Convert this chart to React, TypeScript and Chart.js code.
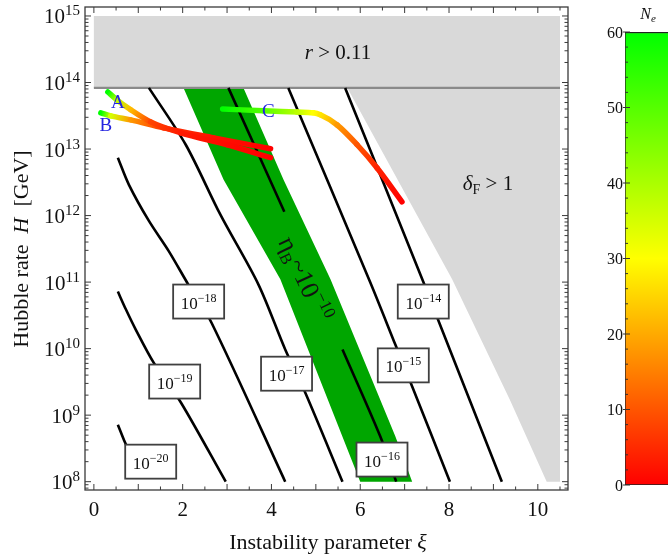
import React, { useEffect, useRef } from 'react';
import { Chart, registerables } from 'chart.js';
Chart.register(...registerables);

const SERIF = "'Liberation Serif', 'Times New Roman', 'DejaVu Serif', serif";

// ---- axes ----
const X_MIN = -0.2;
const X_MAX = 10.68;
const Y_MIN = Math.pow(10, 7.875);
const Y_MAX = Math.pow(10, 15.135);
const xTickLabels = [0, 2, 4, 6, 8, 10];
const xMinorTicks = [0, 0.5, 1, 1.5, 2, 2.5, 3, 3.5, 4, 4.5, 5, 5.5, 6, 6.5, 7, 7.5, 8, 8.5, 9, 9.5, 10, 10.5];
const yDecades = [8, 9, 10, 11, 12, 13, 14, 15];

// ---- excluded regions (r > 0.11 on top, deltaF > 1 on the right) ----
const grayXi = [0, 10.5, 10.5, 10.2, 9.37, 8.07, 5.71, 0];
const grayH = [1e15, 1e15, 1e8, 1e8, 1.71e9, 1.1e11, 8.3e13, 8.3e13];
const rBoundXi = [0, 10.5];
const rBoundH = [8.3e13, 8.3e13];

// ---- eta_B ~ 1e-10 band ----
const bandXi = [2.02, 2.92, 4.2, 6.0, 7.17, 6.79, 5.33, 4.27, 3.37];
const bandH = [8.3e13, 3.47e12, 1.1e11, 1e8, 1e8, 4.8e8, 1.1e11, 3.47e12, 8.3e13];

// ---- contours ----
const c14Xi = [5.66, 7.42, 7.78, 9.19];
const c14H = [8.3e13, 1.01e11, 2.45e10, 1e8];
const c15Xi = [4.38, 6.22, 6.79, 7.17, 8.02];
const c15H = [8.3e13, 1.01e11, 1.15e10, 2.7e9, 1e8];
const c16Xi = [3.03, 4.29, 4.29, 5.6, 6.45, 6.81];
const c16H = [8.3e13, 1.14e12, null, 9.7e9, 4.8e8, 1e8];
const c17Xi = [1.24, 2.07, 2.85, 3.71, 4.31, 4.76, 5.6];
const c17H = [8.3e13, 1.16e13, 1.03e12, 9.1e10, 9.7e9, 2.19e9, 1e8];
const c18Xi = [0.54, 0.79, 1.24, 1.69, 2.13, 2.65, 4.31];
const c18H = [7.4e12, 2.9e12, 8.3e11, 2.9e11, 9.1e10, 2.45e10, 1e8];
const c19Xi = [0.54, 0.72, 0.94, 1.35, 1.96, 2.97];
const c19H = [7.2e10, 3.9e10, 1.95e10, 6.1e9, 1.55e9, 1e8];
const c20Xi = [0.54, 0.7, 0.85];
const c20H = [7.2e8, 3.9e8, 2.3e8];

// contour labels
const labelExp = ['−14', '−15', '−16', '−17', '−18', '−19', '−20'];
const labelXi = [7.42, 6.97, 6.49, 4.34, 2.36, 1.82, 1.28];
const labelH = [5.1e10, 5.6e9, 2.15e8, 4.2e9, 5.1e10, 3.2e9, 2.0e8];

// ---- trajectories A, B, C coloured by N_e ----
const aXi = [0.315, 0.517, 0.83, 1.28, 1.955, 3.01, 3.98];
const aH = [7.2e13, 5.5e13, 3.9e13, 2.56e13, 1.75e13, 1.16e13, 7.4e12];
const aNe = [60, 38, 22, 8, 3, 1, 0];
const bXi = [0.157, 0.382, 0.83, 1.57, 2.7, 3.98];
const bH = [3.5e13, 3.15e13, 2.74e13, 2.08e13, 1.47e13, 1.01e13];
const bNe = [60, 35, 18, 6, 2, 0];
const cXi = [2.9, 3.82, 4.58, 4.94, 5.1, 5.48, 5.93, 6.38, 6.94];
const cH = [4.0e13, 3.75e13, 3.6e13, 3.5e13, 3.27e13, 2.3e13, 1.16e13, 5.2e12, 1.61e12];
const cNe = [60, 50, 38, 30, 27, 18, 10, 4, 0];
const trajNames = ['A', 'B', 'C'];
const trajNameXi = [0.54, 0.27, 3.93];
const trajNameH = [5.1e13, 2.3e13, 3.75e13];

// ---- region texts ----
const rTextXi = 5.5;
const rTextH = 2.9e14;
const dTextXi = 8.31;
const dTextH = 3.1e12;
const etaXi = 4.74;
const etaH = 1.1e11;

// ---- colour bar ----
const NE_MAX = 60;
const neTicks = [0, 10, 20, 30, 40, 50, 60];
const neMinor = [2, 4, 6, 8, 12, 14, 16, 18, 22, 24, 26, 28, 32, 34, 36, 38, 42, 44, 46, 48, 52, 54, 56, 58];

function neColor(ne: number) {
  let r: number, g: number;
  if (ne <= 30) { r = 255; g = Math.round(255 * ne / 30); }
  else { r = Math.round(255 * (60 - ne) / 30); g = 255; }
  return `rgb(${r},${g},0)`;
}

function pts(xs: number[], hs: (number | null)[]) {
  return xs.map((x, i) => ({ x, y: hs[i] }));
}

function contourDs(xs: number[], hs: (number | null)[]) {
  return {
    data: pts(xs, hs), showLine: true, borderColor: '#000', borderWidth: 2.6,
    pointRadius: 0, tension: 0.3, spanGaps: false, order: 5,
  };
}

function trajDs(xs: number[], hs: number[], nes: number[]) {
  return {
    data: pts(xs, hs), showLine: true, borderWidth: 5.5, pointRadius: 0,
    borderCapStyle: 'round', borderJoinStyle: 'round', cubicInterpolationMode: 'monotone',
    borderColor: neColor(nes[0]), order: 1,
    segment: {
      borderColor: (c: any) => {
        const g = c.chart.ctx.createLinearGradient(c.p0.x, c.p0.y, c.p1.x, c.p1.y);
        g.addColorStop(0, neColor(nes[c.p0DataIndex]));
        g.addColorStop(1, neColor(nes[c.p1DataIndex]));
        return g;
      },
      borderDashOffset: (c: any) => c.p0DataIndex,
    },
  };
}

type Part = { t: string; font: string; dy: number };
function measureParts(ctx: CanvasRenderingContext2D, parts: Part[]) {
  let w = 0;
  for (const p of parts) { ctx.font = p.font; w += ctx.measureText(p.t).width; }
  return w;
}
function drawParts(ctx: CanvasRenderingContext2D, parts: Part[], x: number, y: number, align: 'left' | 'center' | 'right') {
  const w = measureParts(ctx, parts);
  let cx = align === 'left' ? x : align === 'center' ? x - w / 2 : x - w;
  ctx.textAlign = 'left';
  ctx.textBaseline = 'alphabetic';
  for (const p of parts) {
    ctx.font = p.font;
    ctx.fillText(p.t, cx, y + p.dy);
    cx += ctx.measureText(p.t).width;
  }
}

const polyFillPlugin = {
  id: 'polyFill',
  beforeDatasetsDraw(chart: any) {
    const { ctx, chartArea: a } = chart;
    ctx.save();
    ctx.beginPath();
    ctx.rect(a.left, a.top, a.right - a.left, a.bottom - a.top);
    ctx.clip();
    chart.data.datasets.forEach((ds: any, i: number) => {
      if (!ds.polyFill) return;
      const meta = chart.getDatasetMeta(i);
      ctx.beginPath();
      meta.data.forEach((p: any, j: number) => (j ? ctx.lineTo(p.x, p.y) : ctx.moveTo(p.x, p.y)));
      ctx.closePath();
      ctx.fillStyle = ds.polyFill;
      ctx.fill();
    });
    ctx.restore();
  },
};

const decorPlugin = {
  id: 'decor',
  afterDraw(chart: any) {
    const { ctx, chartArea: a, scales } = chart;
    const xs = scales.x, ys = scales.y;
    ctx.save();

    // eta_B text (rotated)
    ctx.save();
    ctx.translate(xs.getPixelForValue(etaXi), ys.getPixelForValue(etaH));
    ctx.rotate((65 * Math.PI) / 180);
    ctx.fillStyle = '#111';
    drawParts(ctx, [
      { t: 'η', font: `26px ${SERIF}`, dy: 0 },
      { t: 'B', font: `16px ${SERIF}`, dy: 5 },
      { t: '~', font: `26px ${SERIF}`, dy: 0 },
      { t: '10', font: `26px ${SERIF}`, dy: 0 },
      { t: '−10', font: `17px ${SERIF}`, dy: -11 },
    ], 0, 8, 'center');
    ctx.restore();

    // contour labels
    labelExp.forEach((e, i) => {
      const cx = xs.getPixelForValue(labelXi[i]);
      const cy = ys.getPixelForValue(labelH[i]);
      const w = 51, h = 34;
      ctx.fillStyle = '#fff';
      ctx.fillRect(cx - w / 2, cy - h / 2, w, h);
      ctx.strokeStyle = '#404040';
      ctx.lineWidth = 1.8;
      ctx.strokeRect(cx - w / 2, cy - h / 2, w, h);
      ctx.fillStyle = '#111';
      drawParts(ctx, [
        { t: '10', font: `17px ${SERIF}`, dy: 0 },
        { t: e, font: `12px ${SERIF}`, dy: -7 },
      ], cx, cy + 7, 'center');
    });

    // trajectory names
    ctx.fillStyle = '#2424e0';
    trajNames.forEach((n, i) => {
      ctx.font = `19px ${SERIF}`;
      ctx.textAlign = 'center';
      ctx.textBaseline = 'middle';
      ctx.fillText(n, xs.getPixelForValue(trajNameXi[i]), ys.getPixelForValue(trajNameH[i]) + 1);
    });

    // region texts
    ctx.fillStyle = '#111';
    drawParts(ctx, [
      { t: 'r', font: `italic 21px ${SERIF}`, dy: 0 },
      { t: ' > 0.11', font: `21px ${SERIF}`, dy: 0 },
    ], xs.getPixelForValue(rTextXi), ys.getPixelForValue(rTextH) + 7, 'center');
    drawParts(ctx, [
      { t: 'δ', font: `italic 21px ${SERIF}`, dy: 0 },
      { t: 'F', font: `14px ${SERIF}`, dy: 4 },
      { t: ' > 1', font: `21px ${SERIF}`, dy: 0 },
    ], xs.getPixelForValue(dTextXi), ys.getPixelForValue(dTextH) + 7, 'left');

    // frame
    ctx.strokeStyle = '#3a3a3a';
    ctx.lineWidth = 1.3;
    ctx.strokeRect(a.left, a.top, a.right - a.left, a.bottom - a.top);

    // x ticks (bottom + top, inward)
    ctx.lineWidth = 1;
    ctx.beginPath();
    xMinorTicks.forEach((v) => {
      const px = xs.getPixelForValue(v);
      const len = Number.isInteger(v) ? 6 : 3.5;
      ctx.moveTo(px, a.bottom); ctx.lineTo(px, a.bottom - len);
      ctx.moveTo(px, a.top); ctx.lineTo(px, a.top + len);
    });
    // y ticks (left + right, inward)
    yDecades.forEach((d) => {
      for (let m = 1; m <= 9; m++) {
        const v = m * Math.pow(10, d);
        if (v < Y_MIN || v > Y_MAX) continue;
        const py = ys.getPixelForValue(v);
        const len = m === 1 ? 6 : 3.5;
        ctx.moveTo(a.left, py); ctx.lineTo(a.left + len, py);
        ctx.moveTo(a.right, py); ctx.lineTo(a.right - len, py);
      }
    });
    [7].forEach((d) => {
      for (let m = 8; m <= 9; m++) {
        const v = m * Math.pow(10, d);
        if (v < Y_MIN) continue;
        const py = ys.getPixelForValue(v);
        ctx.moveTo(a.left, py); ctx.lineTo(a.left + 3.5, py);
        ctx.moveTo(a.right, py); ctx.lineTo(a.right - 3.5, py);
      }
    });
    ctx.stroke();

    // tick labels
    ctx.fillStyle = '#111';
    xTickLabels.forEach((v) => {
      ctx.font = `21px ${SERIF}`;
      ctx.textAlign = 'center';
      ctx.textBaseline = 'alphabetic';
      ctx.fillText(String(v), xs.getPixelForValue(v), a.bottom + 26);
    });
    yDecades.forEach((d) => {
      const py = ys.getPixelForValue(Math.pow(10, d));
      drawParts(ctx, [
        { t: '10', font: `21px ${SERIF}`, dy: 0 },
        { t: String(d), font: `15px ${SERIF}`, dy: -8 },
      ], a.left - 5, py + 7.5, 'right');
    });

    // axis titles
    ctx.fillStyle = '#111';
    drawParts(ctx, [
      { t: 'Instability parameter ', font: `22px ${SERIF}`, dy: 0 },
      { t: 'ξ', font: `italic 22px ${SERIF}`, dy: 0 },
    ], 328, 549, 'center');
    ctx.save();
    ctx.translate(28, 249);
    ctx.rotate(-Math.PI / 2);
    drawParts(ctx, [
      { t: 'Hubble rate  ', font: `22px ${SERIF}`, dy: 0 },
      { t: 'H', font: `italic 22px ${SERIF}`, dy: 0 },
      { t: '  [GeV]', font: `22px ${SERIF}`, dy: 0 },
    ], 0, 0, 'center');
    ctx.restore();

    ctx.restore();
  },
};

const barDecorPlugin = {
  id: 'barDecor',
  afterDraw(chart: any) {
    const { ctx, chartArea: a, scales } = chart;
    const ys = scales.y;
    ctx.save();
    ctx.strokeStyle = '#333';
    ctx.lineWidth = 1;
    ctx.beginPath();
    neMinor.forEach((v) => {
      const py = ys.getPixelForValue(v);
      ctx.moveTo(a.left, py); ctx.lineTo(a.left + 3, py);
    });
    neTicks.forEach((v) => {
      const py = ys.getPixelForValue(v);
      ctx.moveTo(a.left - 2, py); ctx.lineTo(a.left + 5, py);
    });
    ctx.stroke();
    ctx.fillStyle = '#111';
    neTicks.forEach((v) => {
      ctx.font = `16px ${SERIF}`;
      ctx.textAlign = 'right';
      ctx.textBaseline = 'alphabetic';
      ctx.fillText(String(v), a.left - 2, ys.getPixelForValue(v) + 5.5);
    });
    drawParts(ctx, [
      { t: 'N', font: `italic 16px ${SERIF}`, dy: 0 },
      { t: 'e', font: `italic 11px ${SERIF}`, dy: 3 },
    ], a.left + 23, 19, 'center');
    ctx.restore();
  },
};

function mainConfig(): any {
  return {
    type: 'scatter',
    data: {
      datasets: [
        trajDs(cXi, cH, cNe),
        trajDs(aXi, aH, aNe),
        trajDs(bXi, bH, bNe),
        contourDs(c14Xi, c14H),
        contourDs(c15Xi, c15H),
        contourDs(c16Xi, c16H),
        contourDs(c17Xi, c17H),
        contourDs(c18Xi, c18H),
        contourDs(c19Xi, c19H),
        contourDs(c20Xi, c20H),
        { data: pts(rBoundXi, rBoundH), showLine: true, borderColor: '#8a8a8a', borderWidth: 2.2, pointRadius: 0, order: 7 },
        { data: pts(grayXi, grayH), showLine: false, pointRadius: 0, polyFill: '#d9d9d9', order: 9 },
        { data: pts(bandXi, bandH), showLine: false, pointRadius: 0, polyFill: '#00a600', order: 8 },
      ],
    },
    options: {
      responsive: false,
      animation: false,
      events: [],
      layout: { padding: { left: 85, top: 7, right: 100, bottom: 67 } },
      plugins: { legend: { display: false }, tooltip: { enabled: false } },
      scales: {
        x: { type: 'linear', min: X_MIN, max: X_MAX, display: false },
        y: { type: 'logarithmic', min: Y_MIN, max: Y_MAX, display: false },
      },
    },
    plugins: [polyFillPlugin, decorPlugin],
  };
}

function barConfig(): any {
  return {
    type: 'bar',
    data: {
      labels: ['Ne'],
      datasets: [{
        data: [NE_MAX],
        backgroundColor: (c: any) => {
          const { chart } = c;
          const ys = chart.scales.y;
          if (!ys || !chart.chartArea) return neColor(30);
          const g = chart.ctx.createLinearGradient(0, ys.getPixelForValue(0), 0, ys.getPixelForValue(NE_MAX));
          g.addColorStop(0, neColor(0));
          g.addColorStop(0.5, neColor(30));
          g.addColorStop(1, neColor(60));
          return g;
        },
        borderColor: '#222',
        borderWidth: { top: 1.5, left: 1, bottom: 1, right: 0 },
        borderSkipped: false,
        barPercentage: 1,
        categoryPercentage: 1,
      }],
    },
    options: {
      responsive: false,
      animation: false,
      events: [],
      layout: { padding: { left: 35, top: 32, right: 0, bottom: 72 } },
      plugins: { legend: { display: false }, tooltip: { enabled: false } },
      scales: {
        x: { display: false },
        y: { display: false, min: 0, max: NE_MAX },
      },
    },
    plugins: [barDecorPlugin],
  };
}

export default function App() {
  const mainRef = useRef<HTMLCanvasElement>(null);
  const barRef = useRef<HTMLCanvasElement>(null);
  useEffect(() => {
    const main = new Chart(mainRef.current as HTMLCanvasElement, mainConfig());
    const bar = new Chart(barRef.current as HTMLCanvasElement, barConfig());
    return () => { main.destroy(); bar.destroy(); };
  }, []);
  return (
    <div style={{ position: 'absolute', left: 0, top: 0, width: 668, height: 557, background: '#fff' }}>
      <canvas ref={mainRef} width={668} height={557} style={{ position: 'absolute', left: 0, top: 0, width: 668, height: 557 }} />
      <canvas ref={barRef} width={78} height={557} style={{ position: 'absolute', left: 590, top: 0, width: 78, height: 557 }} />
    </div>
  );
}
